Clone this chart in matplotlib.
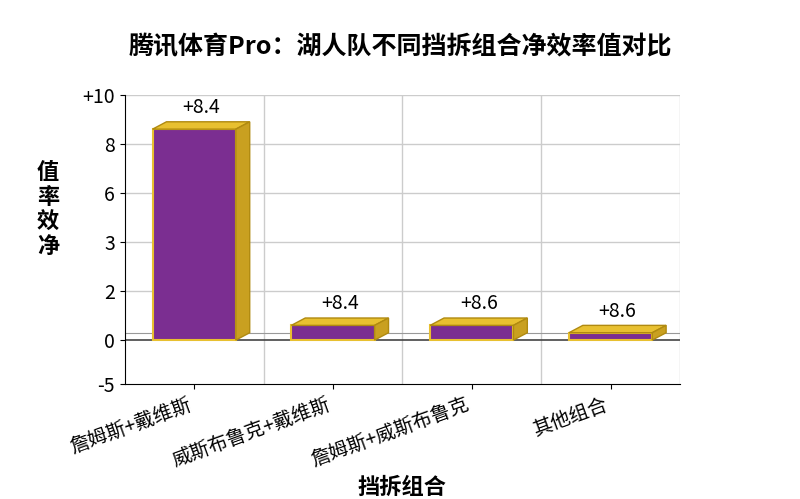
import matplotlib
matplotlib.use("Agg")
import matplotlib.pyplot as plt
from matplotlib.patches import Polygon

plt.rcParams['font.family'] = ['Noto Sans CJK SC', 'DejaVu Sans']

categories = ["詹姆斯+戴维斯", "威斯布鲁克+戴维斯", "詹姆斯+威斯布鲁克", "其他组合"]
bar_heights = [8.6, 0.6, 0.6, 0.3]
labels = ["+8.4", "+8.4", "+8.6", "+8.6"]
ytick_pos = [10, 8, 6, 4, 2, 0, -1.8]
ytick_labels = ["+10", "8", "6", "3", "2", "0", "-5"]

fig = plt.figure(figsize=(8, 4.99), dpi=100)
ax = fig.add_axes([0.156, 0.23, 0.694, 0.58])
ax.set_xlim(-0.5, 3.5)
ax.set_ylim(-1.8, 10)

w = 0.6
dx, dy = 0.1, 0.3
purple, top, side = "#7b2e91", "#e8c030", "#c9a020"
for i, h in enumerate(bar_heights):
    x0, x1 = i - w / 2, i + w / 2
    ax.add_patch(Polygon([(x0, 0), (x1, 0), (x1, h), (x0, h)], closed=True,
                         facecolor=purple, edgecolor=top, lw=1.5, zorder=3))
    ax.add_patch(Polygon([(x0, h), (x1, h), (x1 + dx, h + dy), (x0 + dx, h + dy)], closed=True,
                         facecolor=top, edgecolor="#b08a10", lw=1, zorder=3))
    ax.add_patch(Polygon([(x1, 0), (x1 + dx, dy), (x1 + dx, h + dy), (x1, h)], closed=True,
                         facecolor=side, edgecolor="#b08a10", lw=1, zorder=3))
    ax.text(i + 0.05, h + dy + 0.15, labels[i], ha="center", va="bottom", fontsize=14, zorder=4)

ax.plot([-0.5, 3.5], [0, 0], color="#444", lw=1.2, zorder=2)
ax.plot([-0.5, 3.5], [0.3, 0.3], color="#999", lw=0.8, zorder=2)

ax.set_yticks(ytick_pos)
ax.set_yticklabels(ytick_labels, fontsize=14)
ax.set_xticks(range(4))
ax.set_xticklabels(categories, rotation=20, ha="right", fontsize=14)
for g in [0.5, 1.5, 2.5, 3.5]:
    ax.axvline(g, color="#cccccc", lw=1, zorder=0)
for y in [10, 8, 6, 4, 2]:
    ax.axhline(y, color="#cccccc", lw=1, zorder=0)
for s in ["top", "right"]:
    ax.spines[s].set_visible(False)

ax.set_xlabel("挡拆组合", fontsize=16, fontweight="bold")
fig.text(0.06, 0.58, "值\n率\n效\n净", fontsize=16, fontweight="bold", ha="center", va="center", linespacing=1.1)
fig.suptitle("腾讯体育Pro：湖人队不同挡拆组合净效率值对比", fontsize=18, fontweight="bold", y=0.93)
fig.savefig("out.png", dpi=100)
